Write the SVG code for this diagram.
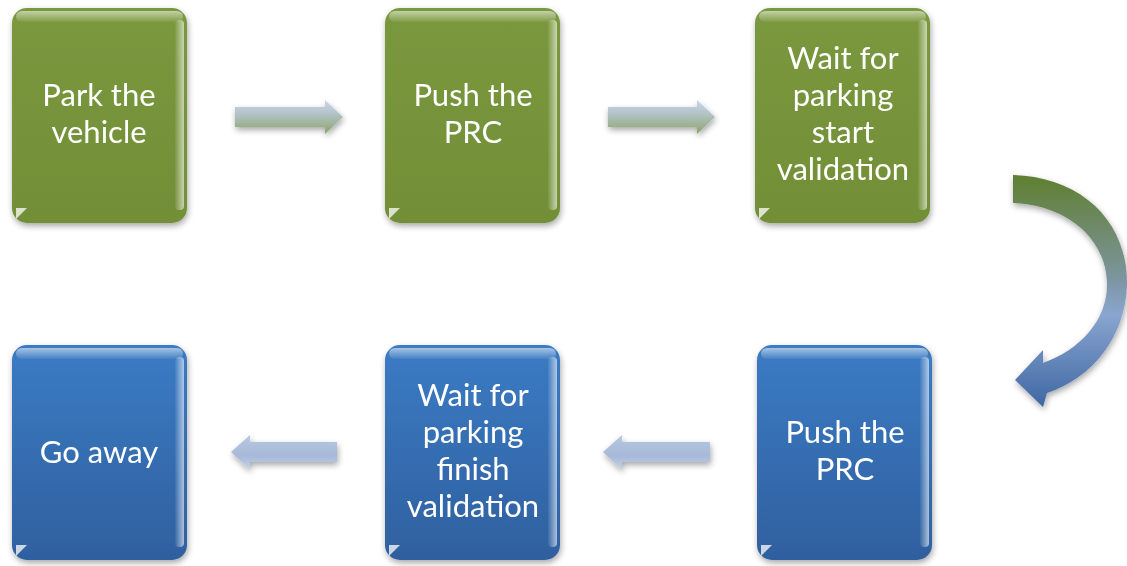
<svg xmlns="http://www.w3.org/2000/svg" width="1127" height="566" viewBox="0 0 1127 566">
<defs>
<linearGradient id="gGreen" x1="0" y1="0" x2="0" y2="1">
<stop offset="0" stop-color="#7a983d"/><stop offset="1" stop-color="#728f38"/>
</linearGradient>
<linearGradient id="gBlue" x1="0" y1="0" x2="0" y2="1">
<stop offset="0" stop-color="#3b7bc4"/><stop offset="1" stop-color="#2f609f"/>
</linearGradient>
<linearGradient id="gHi" x1="0" y1="0" x2="0" y2="1">
<stop offset="0" stop-color="#ffffff" stop-opacity="0.55"/><stop offset="1" stop-color="#ffffff" stop-opacity="0.05"/>
</linearGradient>
<linearGradient id="gSide" x1="0" y1="0" x2="1" y2="0">
<stop offset="0" stop-color="#ffffff" stop-opacity="0.05"/><stop offset="1" stop-color="#ffffff" stop-opacity="0.6"/>
</linearGradient>
<linearGradient id="gArrTop" x1="0" y1="0" x2="0" y2="1">
<stop offset="0" stop-color="#c9d6ea"/><stop offset="0.4" stop-color="#b3c3c9"/><stop offset="1" stop-color="#8ca466"/>
</linearGradient>
<linearGradient id="gArrBot" x1="0" y1="0" x2="0" y2="1">
<stop offset="0" stop-color="#b9c8e1"/><stop offset="0.6" stop-color="#a6b9d8"/><stop offset="1" stop-color="#c5d3e8"/>
</linearGradient>
<linearGradient id="gCurve" x1="0" y1="0" x2="0" y2="1">
<stop offset="0" stop-color="#5f7f30"/><stop offset="0.45" stop-color="#7d95a0"/><stop offset="0.6" stop-color="#8aa5cf"/><stop offset="1" stop-color="#3e67a3"/>
</linearGradient>
<filter id="sh" x="-10%" y="-10%" width="125%" height="125%">
<feGaussianBlur in="SourceAlpha" stdDeviation="3"/>
<feOffset dx="1" dy="3" result="b"/>
<feComponentTransfer><feFuncA type="linear" slope="0.35"/></feComponentTransfer>
<feMerge><feMergeNode/><feMergeNode in="SourceGraphic"/></feMerge>
</filter>
<g id="bevel">
<rect x="4" y="3" width="167" height="11" rx="6" fill="url(#gHi)"/>
<rect x="163" y="12" width="9" height="190" rx="4" fill="url(#gSide)"/>
<path d="M4 200 L15 200 L4 211 Z" fill="#ffffff" opacity="0.75"/>
</g>
</defs>
<style>
.t{font-family:Lato,"Liberation Sans",sans-serif;font-size:31px;fill:#ffffff;text-anchor:middle}
</style>
<g id="connectors">
<g filter="url(#sh)">
<path d="M235 107 L325 107 L325 100 L343 117 L325 134 L325 127 L235 127 Z" fill="url(#gArrTop)"/>
<path d="M608 107 L697 107 L697 100 L715 117 L697 134 L697 127 L608 127 Z" fill="url(#gArrTop)"/>
<path d="M337 442 L250 442 L250 435 L231 452 L250 470 L250 462 L337 462 Z" fill="url(#gArrBot)"/>
<path d="M710 442 L622 442 L622 435 L603 452 L622 470 L622 462 L710 462 Z" fill="url(#gArrBot)"/>
<path d="M1013 175 C1080 177 1128 220 1127 285 C1125 338 1092 378 1047 393 L1043 407 L1015 380 L1043 350 L1043 363 C1080 350 1107 320 1107 285 C1107 238 1066 205 1013 203 Z" fill="url(#gCurve)"/>
</g>
</g>
<g id="n1" filter="url(#sh)">
<rect x="12" y="8" width="175" height="215" rx="15" fill="url(#gGreen)"/>
<use href="#bevel" x="12" y="8"/>
<text class="t" x="99" y="106">Park the</text>
<text class="t" x="99" y="143">vehicle</text>
</g>
<g id="n2" filter="url(#sh)">
<rect x="385" y="8" width="175" height="215" rx="15" fill="url(#gGreen)"/>
<use href="#bevel" x="385" y="8"/>
<text class="t" x="473" y="106">Push the</text>
<text class="t" x="473" y="143">PRC</text>
</g>
<g id="n3" filter="url(#sh)">
<rect x="755" y="8" width="175" height="215" rx="15" fill="url(#gGreen)"/>
<use href="#bevel" x="755" y="8"/>
<text class="t" x="843" y="69">Wait for</text>
<text class="t" x="843" y="106">parking</text>
<text class="t" x="843" y="143">start</text>
<text class="t" x="843" y="180">validation</text>
</g>
<g id="n4" filter="url(#sh)">
<rect x="757" y="345" width="175" height="215" rx="15" fill="url(#gBlue)"/>
<use href="#bevel" x="757" y="345"/>
<text class="t" x="845" y="443">Push the</text>
<text class="t" x="845" y="480">PRC</text>
</g>
<g id="n5" filter="url(#sh)">
<rect x="385" y="345" width="175" height="215" rx="15" fill="url(#gBlue)"/>
<use href="#bevel" x="385" y="345"/>
<text class="t" x="473" y="406">Wait for</text>
<text class="t" x="473" y="443">parking</text>
<text class="t" x="473" y="480">finish</text>
<text class="t" x="473" y="517">validation</text>
</g>
<g id="n6" filter="url(#sh)">
<rect x="12" y="345" width="175" height="215" rx="15" fill="url(#gBlue)"/>
<use href="#bevel" x="12" y="345"/>
<text class="t" x="99" y="463">Go away</text>
</g>
</svg>
